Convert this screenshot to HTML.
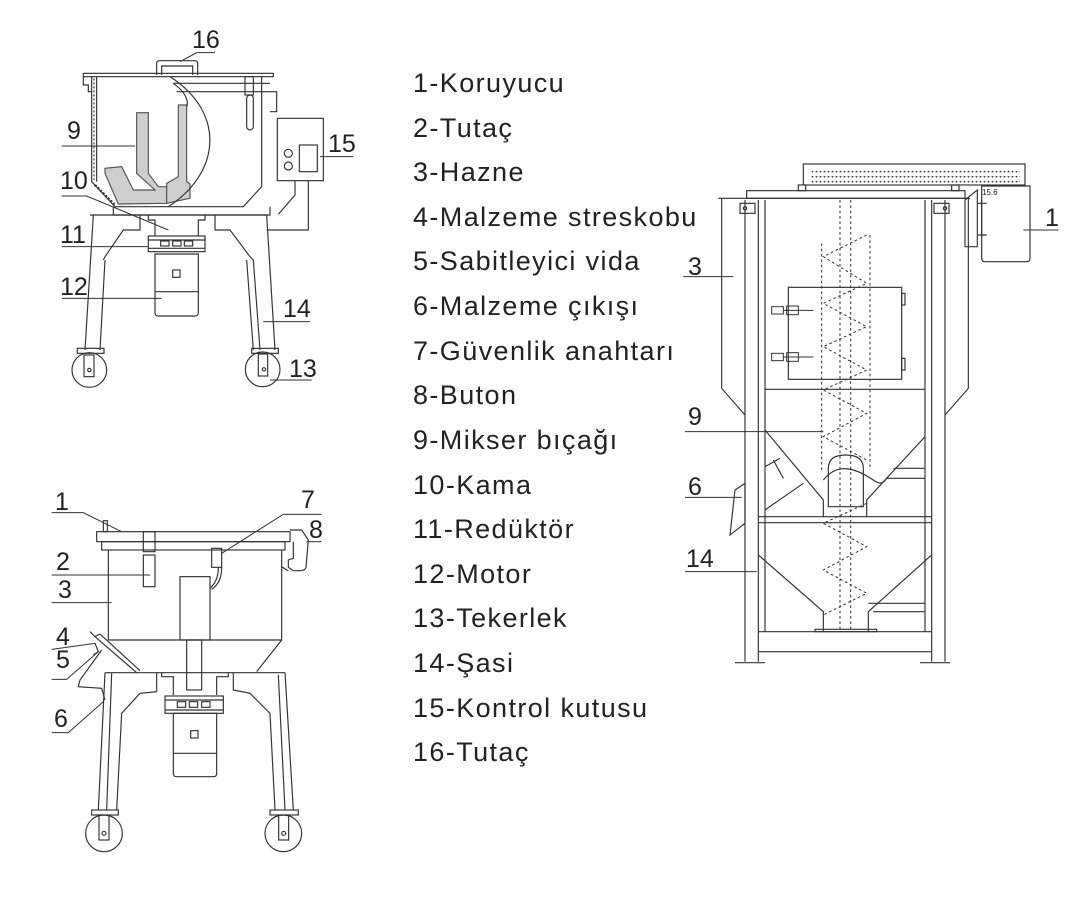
<!DOCTYPE html>
<html><head><meta charset="utf-8"><style>
html,body{margin:0;padding:0;background:#fff;}
svg{display:block;}
text{font-family:"Liberation Sans",sans-serif;fill:#222;}
</style></head><body>
<svg width="1070" height="906" viewBox="0 0 1070 906" xmlns="http://www.w3.org/2000/svg">
<rect width="1070" height="906" fill="#fff"/>

<!-- Legend -->
<g font-size="27" letter-spacing="1.4">
<text x="413" y="92">1-Koruyucu</text>
<text x="413" y="137">2-Tutaç</text>
<text x="413" y="181">3-Hazne</text>
<text x="413" y="226">4-Malzeme streskobu</text>
<text x="413" y="270">5-Sabitleyici vida</text>
<text x="413" y="315">6-Malzeme çıkışı</text>
<text x="413" y="360">7-Güvenlik anahtarı</text>
<text x="413" y="404">8-Buton</text>
<text x="413" y="449">9-Mikser bıçağı</text>
<text x="413" y="494">10-Kama</text>
<text x="413" y="538">11-Redüktör</text>
<text x="413" y="583">12-Motor</text>
<text x="413" y="627">13-Tekerlek</text>
<text x="413" y="672">14-Şasi</text>
<text x="413" y="717">15-Kontrol kutusu</text>
<text x="413" y="761">16-Tutaç</text>
</g>

<!-- Top-left figure -->
<g transform="translate(40,30) scale(0.33333)" fill="none" stroke="#333" stroke-width="3.5">
<path d="M290,248 L325,248 L325,430 L355,470 L380,470 L380,520 L235,522 L195,430 L195,415 L245,410 L280,480 L345,480 L290,430 Z" fill="#cfcfcf" stroke="#555"/>
<path d="M415,225 L440,225 L440,455 L450,462 L450,505 L380,520 L380,460 L415,440 Z" fill="#cfcfcf" stroke="#555"/>
<path d="M350,135 L350,100 Q350,92 358,92 L465,92 Q473,92 473,100 L473,135 M365,135 L365,108 L458,108 L458,135"/>
<rect x="130" y="130" width="570" height="10"/>
<path d="M400,160 L690,160 M410,185 L690,185"/>
<rect x="615" y="140" width="25" height="55"/>
<rect x="620" y="195" width="20" height="105" rx="10"/>
<path d="M690,185 L710,185 L710,245 L690,245"/>
<path d="M130,140 L130,165 L145,165 L145,185 L155,185"/>
<path d="M155,140 L155,455 L225,530 L610,530 L665,470 L665,140"/>
<path d="M170,140 L170,455" />
<path d="M162,145 L162,450" stroke-dasharray="6,6"/>
<path d="M165,465 L225,525" stroke-dasharray="6,5" stroke-width="7"/>
<path d="M390,140 C560,250 540,430 385,530"/>
<path d="M400,160 C455,200 440,230 440,230"/>
<path d="M220,530 L220,555 L690,555 L690,530"/>
<path d="M150,555 L680,555"/>
<path d="M325,555 L325,570 L345,570 L345,618 M495,555 L495,570 L475,570 L475,618"/>
<rect x="325" y="618" width="170" height="47"/>
<path d="M325,630 L495,630 M325,655 L495,655"/>
<rect x="362" y="633" width="25" height="15"/><rect x="398" y="633" width="25" height="15"/><rect x="433" y="633" width="25" height="15"/>
<path d="M345,672 L475,672 L475,848 Q475,858 465,858 L355,858 Q345,858 345,848 Z M345,785 L475,785"/>
<rect x="398" y="720" width="22" height="22"/>
<path d="M160,555 L135,960 M195,690 L180,960 M300,555 L300,600 L250,600 L195,680 L190,690"/>
<path d="M680,555 L705,960 M525,555 L525,600 L570,600 L630,680 L640,690 L660,960 M620,690 L640,960" />
<rect x="112" y="955" width="80" height="15"/>
<rect x="635" y="955" width="80" height="15"/>
<circle cx="148" cy="1020" r="52"/><rect x="132" y="975" width="30" height="65"/><circle cx="148" cy="1020" r="5"/>
<circle cx="668" cy="1018" r="52"/><rect x="655" y="972" width="28" height="66"/><circle cx="672" cy="1018" r="5"/>
<rect x="712" y="265" width="138" height="187"/>
<circle cx="745" cy="370" r="12"/><circle cx="745" cy="408" r="12"/>
<rect x="778" y="345" width="54" height="80"/>
<path d="M765,452 L765,495 L715,553 M805,452 L805,600 L680,600"/>
<g stroke-width="3">
<path d="M420,95 L470,68 L525,68"/>
<path d="M65,348 L285,348"/>
<path d="M65,498 L140,498 L385,600"/>
<path d="M65,650 L325,650"/>
<path d="M65,805 L365,805"/>
<path d="M840,380 L940,380"/>
<path d="M670,875 L810,875"/>
<path d="M690,1050 L815,1050"/>
</g>
</g>
<g font-size="25">
<text x="192" y="48">16</text>
<text x="67" y="139">9</text>
<text x="60" y="189">10</text>
<text x="60" y="243">11</text>
<text x="60" y="295">12</text>
<text x="328" y="152">15</text>
<text x="283" y="317">14</text>
<text x="289" y="377">13</text>
</g>

<!-- Bottom-left figure -->
<g transform="translate(40,480) scale(0.33333)" fill="none" stroke="#333" stroke-width="3.5">
<rect x="190" y="122" width="12" height="33"/>
<rect x="170" y="155" width="580" height="30"/>
<rect x="185" y="185" width="550" height="25"/>
<path d="M750,150 L785,150 L805,180 L798,262 Q795,272 780,272 L760,272 L745,262 L745,240 L760,235 L760,185"/>
<path d="M725,260 L740,270 L745,272"/>
<path d="M205,210 L205,480 M725,210 L725,480 L650,575 M205,480 L725,480"/>
<rect x="310" y="155" width="35" height="60"/>
<rect x="310" y="225" width="35" height="95"/>
<rect x="515" y="205" width="30" height="57"/>
<path d="M535,262 C535,300 520,315 510,325 M545,262 C545,300 530,318 515,328"/>
<rect x="420" y="290" width="90" height="190"/>
<rect x="440" y="480" width="45" height="150"/>
<path d="M165,470 L290,578 M180,462 L300,572 M150,455 L165,470 M165,470 L180,462"/>
<path d="M165,490 L175,515 L160,525 M185,510 L120,600 L115,620 L185,625 L195,660"/>
<path d="M195,578 L735,578"/>
<path d="M195,578 L175,990 M215,580 L200,990 M350,578 L350,635 L300,640 L245,700 L230,990"/>
<path d="M735,578 L760,990 M715,585 L735,990 M580,578 L580,630 L630,640 L690,700 L705,990"/>
<path d="M365,578 L365,590 L400,590 L400,645 M565,578 L565,590 L530,590 L530,645"/>
<rect x="375" y="648" width="175" height="52"/>
<path d="M375,660 L550,660 M375,690 L550,690"/>
<rect x="412" y="665" width="25" height="17"/><rect x="448" y="665" width="25" height="17"/><rect x="485" y="665" width="25" height="17"/>
<path d="M400,700 L530,700 L530,880 Q530,890 520,890 L410,890 Q400,890 400,880 Z M400,820 L530,820"/>
<rect x="452" y="752" width="22" height="22"/>
<rect x="155" y="990" width="80" height="15"/><rect x="690" y="990" width="85" height="15"/>
<circle cx="192" cy="1060" r="55"/><rect x="177" y="1005" width="30" height="75"/><circle cx="192" cy="1060" r="6"/>
<circle cx="730" cy="1060" r="55"/><rect x="716" y="1005" width="30" height="75"/><circle cx="731" cy="1060" r="6"/>
<g stroke-width="3">
<path d="M35,98 L130,98 L245,155"/>
<path d="M845,103 L730,103 L545,220"/>
<path d="M800,185 L845,185"/>
<path d="M35,285 L330,285"/>
<path d="M35,368 L215,368"/>
<path d="M35,508 L165,490"/>
<path d="M35,598 L80,598 L175,515"/>
<path d="M35,758 L85,758 L190,665"/>
</g>
</g>
<g font-size="25">
<text x="55" y="510">1</text>
<text x="301" y="508">7</text>
<text x="309" y="538">8</text>
<text x="56" y="570">2</text>
<text x="58" y="598">3</text>
<text x="56" y="645">4</text>
<text x="56" y="668">5</text>
<text x="54" y="727">6</text>
</g>

<!-- Right figure -->
<g transform="translate(680,150) scale(0.33333)" fill="none" stroke="#333" stroke-width="3.5">
<rect x="370" y="42" width="665" height="63"/>
<g stroke-dasharray="5,7" stroke-width="4">
<path d="M395,65 L1020,65 M395,80 L1020,80 M395,95 L1020,95"/>
</g>
<rect x="355" y="105" width="22" height="17"/><rect x="815" y="105" width="22" height="17"/>
<rect x="200" y="122" width="655" height="23"/>
<path d="M115,145 L870,145"/>
<path d="M125,145 L125,715 L195,795 M865,145 L865,715 L795,795"/>
<path d="M195,150 L195,1535 M235,150 L235,1535 M255,150 L255,1445 M735,150 L735,1445 M755,150 L755,1535 M795,150 L795,1535"/>
<rect x="180" y="160" width="45" height="30"/><circle cx="195" cy="175" r="5"/>
<rect x="762" y="160" width="45" height="30"/><circle cx="795" cy="175" r="5"/>
<path d="M255,718 L735,718"/>
<rect x="325" y="412" width="340" height="276"/>
<rect x="665" y="430" width="10" height="35"/><rect x="665" y="625" width="10" height="35"/>
<g stroke-width="3">
<rect x="275" y="470" width="35" height="22"/><rect x="320" y="468" width="35" height="26"/><path d="M310,481 L400,481"/>
<rect x="275" y="610" width="35" height="22"/><rect x="320" y="608" width="35" height="26"/><path d="M310,621 L400,621"/>
</g>
<g stroke-dasharray="8,8" stroke-width="3">
<path d="M480,150 L480,1445 M512,150 L512,1445"/>
<path d="M425,280 L425,960 M570,255 L570,960"/>
<path d="M560,255 L430,320 L560,400 L430,460 L560,530 L430,590 L560,660 L430,720 L560,790 L430,860 L560,930 M560,1060 L430,1120 L560,1190 L430,1260 L560,1330 L430,1395"/>
</g>
<path d="M255,840 L430,1050 L430,1100 M735,860 L560,1050 L560,1100"/>
<path d="M255,1080 L370,1000 M255,950 L300,925 M280,930 L310,985"/>
<path d="M620,985 L735,985 M640,955 L735,955"/>
<path d="M445,1070 L445,955 Q445,915 497,915 Q550,915 550,955 L550,1070 Z"/>
<path d="M430,990 C470,940 520,950 580,990 C600,1005 610,1000 620,985"/>
<path d="M235,1100 L755,1100 M235,1118 L755,1118"/>
<path d="M235,1215 L430,1385 L430,1445 M755,1215 L565,1385 L565,1445"/>
<path d="M565,1360 L735,1360 M580,1385 L735,1385"/>
<path d="M235,1445 L755,1445 M235,1505 L755,1505"/>
<path d="M405,1445 L590,1445 L590,1438 L405,1438 Z"/>
<path d="M165,1538 L255,1538 M720,1538 L810,1538"/>
<path d="M905,108 L1050,108 L1050,325 Q1050,335 1040,335 L915,335 Q905,335 905,325 Z"/>
<path d="M855,150 L892,120 L892,290 L855,290 Z"/>
<path d="M905,150 L905,260 M892,160 L920,160 M892,255 L920,255"/>
<path d="M150,1155 L165,1020 L195,1000 L195,1120 Z"/>
<g stroke-width="3">
<path d="M10,380 L160,380"/>
<path d="M15,845 L430,845"/>
<path d="M15,1042 L185,1042"/>
<path d="M15,1265 L230,1265"/>
<path d="M1030,240 L1135,240"/>
</g>
</g>
<g font-size="25">
<text x="688" y="275">3</text>
<text x="688" y="425">9</text>
<text x="688" y="495">6</text>
<text x="686" y="567">14</text>
<text x="1045" y="226">1</text>
<text x="982" y="195" font-size="8">15.6</text>
</g>
</svg>
</body></html>
